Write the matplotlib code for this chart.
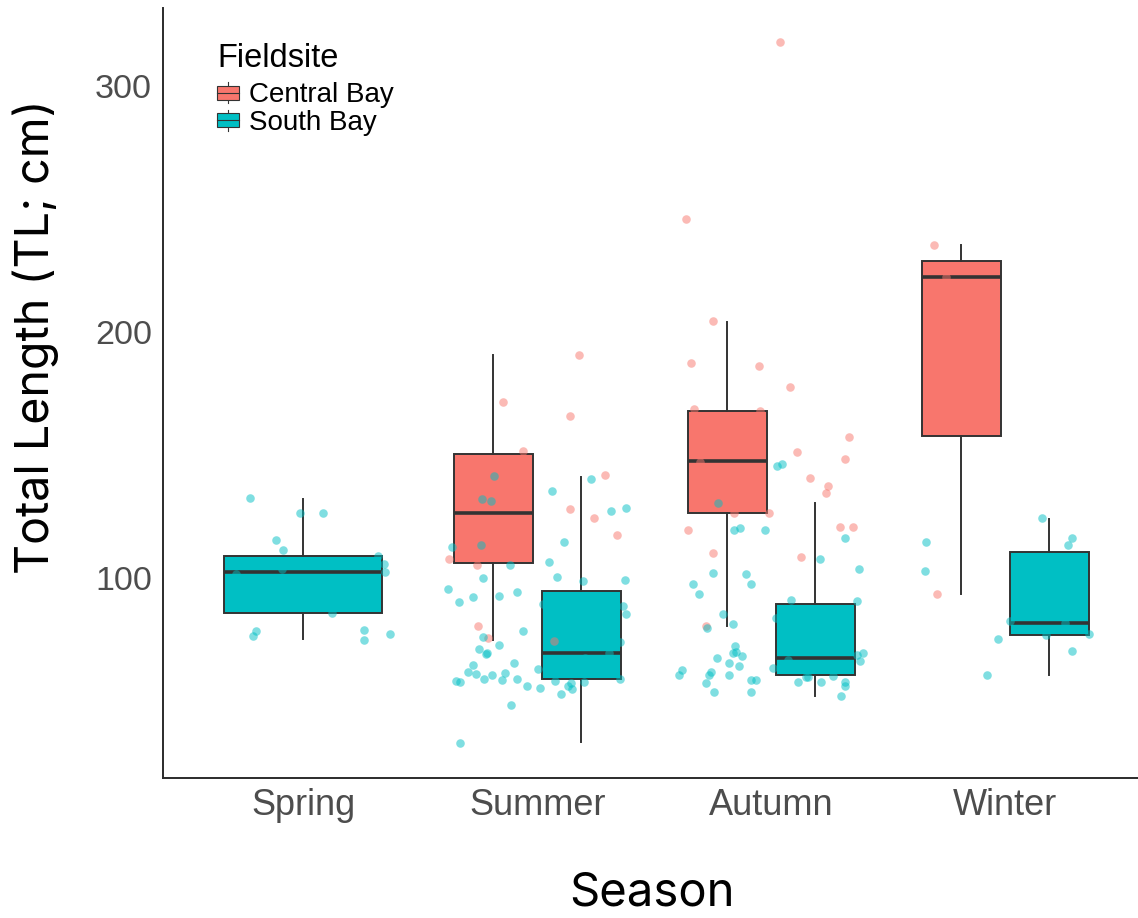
import numpy as np
import matplotlib
matplotlib.use("Agg")
import matplotlib.pyplot as plt
from matplotlib.legend_handler import HandlerBase
from matplotlib.patches import Rectangle, Patch
from matplotlib.lines import Line2D

# ---------------------------------------------------------------- data
seasons = ["Spring", "Summer", "Autumn", "Winter"]
sites = ["Central Bay", "South Bay"]

# box summaries (TL, cm); NaN = no sharks sampled at that site/season
central_whislo = [np.nan, 74.8, 80.5, 93.5]
central_q1 = [np.nan, 106.0, 126.3, 157.8]
central_med = [np.nan, 126.3, 147.4, 222.5]
central_q3 = [np.nan, 150.5, 167.9, 229.0]
central_whishi = [np.nan, 190.8, 204.2, 235.2]

south_whislo = [75.1, 33.2, 52.0, 60.6]
south_q1 = [85.9, 58.9, 60.6, 77.0]
south_med = [102.3, 69.5, 67.3, 81.8]
south_q3 = [108.9, 94.8, 89.3, 110.7]
south_whishi = [132.1, 141.2, 130.3, 124.1]

# individual measurements with their horizontal jitter
spring_south_tl = [132.4, 126.4, 126.4, 115.6, 111.3, 101.7, 103.7, 109.1,
                   105.6, 102.4, 85.9, 78.5, 76.6, 78.7, 74.9, 77.4]
spring_south_jit = [-0.227, -0.015, 0.083, -0.116, -0.089, -0.290, -0.092, 0.318,
                    0.343, 0.348, 0.122, -0.203, -0.216, 0.260, 0.261, 0.370]

summer_central_tl = [190.8, 171.5, 165.9, 151.5, 142.0, 127.9, 124.4, 117.4,
                     107.6, 105.3, 80.5, 75.5, 74.4]
summer_central_jit = [0.180, -0.149, 0.138, -0.061, 0.287, 0.140, 0.240, 0.341,
                      -0.378, -0.257, -0.253, -0.209, 0.072]

summer_south_tl = [141.5, 132.0, 131.3, 113.3, 140.4, 135.4, 127.2, 128.3,
                   114.5, 112.5, 105.3, 106.4, 100.5, 100.0, 98.9, 99.1,
                   95.4, 94.4, 92.4, 92.8, 90.1, 88.6, 85.4, 78.5,
                   76.0, 72.6, 71.3, 69.4, 69.2, 64.6, 65.4, 61.8,
                   61.1, 60.6, 61.4, 58.9, 58.7, 59.1, 62.9, 58.1,
                   57.6, 56.2, 55.2, 58.3, 56.2, 54.9, 57.2, 57.8,
                   58.9, 53.0, 48.4, 32.9, 89.4, 73.9, 69.6, 67.4]
summer_south_jit = [-0.186, -0.236, -0.197, -0.239, 0.229, 0.061, 0.313, 0.380,
                    0.112, -0.365, -0.118, 0.049, 0.086, -0.232, 0.194, 0.374,
                    -0.384, -0.088, -0.273, -0.162, -0.337, 0.364, 0.377, -0.061,
                    -0.232, -0.166, -0.249, -0.217, -0.221, -0.273, -0.102, -0.298,
                    -0.263, -0.194, -0.138, -0.226, -0.152, -0.085, 0.001, -0.347,
                    -0.331, -0.044, 0.012, 0.076, 0.132, 0.149, 0.145, 0.200,
                    0.353, 0.100, -0.112, -0.330, 0.025, 0.353, 0.307, 0.203]

autumn_central_tl = [317.8, 245.9, 204.5, 187.4, 186.3, 177.5, 168.7, 167.8,
                     157.3, 151.3, 148.4, 147.0, 140.5, 137.4, 134.4, 126.3,
                     126.5, 119.5, 120.6, 120.6, 110.3, 108.4, 80.6]
autumn_central_jit = [0.036, -0.364, -0.249, -0.345, -0.052, 0.080, -0.330, -0.048,
                      0.333, 0.109, 0.313, -0.307, 0.166, 0.240, 0.233, -0.160,
                      -0.008, -0.358, 0.293, 0.347, -0.250, 0.126, -0.280]

autumn_south_tl = [130.6, 145.5, 146.3, 119.4, 120.4, 119.6, 116.4, 107.6,
                   103.5, 102.0, 101.6, 97.6, 97.6, 93.4, 91.1, 90.7,
                   85.5, 81.4, 79.5, 72.5, 69.4, 69.8, 68.4, 64.4,
                   67.5, 65.6, 61.9, 60.6, 57.4, 60.6, 62.6, 60.6,
                   53.7, 58.5, 58.5, 53.7, 63.5, 66.7, 57.7, 59.6,
                   59.6, 57.8, 60.2, 57.6, 56.1, 51.9, 68.6, 69.5,
                   66.4, 83.6]
autumn_south_jit = [-0.229, 0.026, 0.046, -0.160, -0.135, -0.026, 0.313, 0.209,
                    0.375, -0.249, -0.110, -0.089, -0.334, -0.310, 0.085, 0.367,
                    -0.207, -0.165, -0.277, -0.155, -0.166, -0.153, -0.127, -0.138,
                    -0.232, -0.182, -0.257, -0.268, -0.281, -0.179, -0.381, -0.395,
                    -0.244, -0.085, -0.065, -0.085, 0.005, 0.073, 0.113, 0.146,
                    0.157, 0.212, 0.264, 0.315, 0.315, 0.297, 0.368, 0.392,
                    0.378, 0.022]

winter_central_tl = [235.4, 222.5, 93.5]
winter_central_jit = [-0.307, -0.254, -0.293]

winter_south_tl = [114.5, 102.8, 124.4, 116.4, 113.4, 82.5, 81.8, 76.8,
                   77.1, 75.3, 70.3, 60.6]
winter_south_jit = [-0.341, -0.345, 0.155, 0.287, 0.268, 0.022, 0.254, 0.172,
                    0.357, -0.030, 0.285, -0.080]

# ---------------------------------------------------------------- style
COL_CENTRAL = "#F8766D"
COL_SOUTH = "#00BFC4"
EDGE = "#333333"
TICK_GREY = "#4D4D4D"
DODGE = 0.75          # total dodge width
PAD = 0.1             # padding between dodged boxes
TITLE_FONT = ["Inter", "DejaVu Sans"]

plt.rcParams["font.family"] = ["Liberation Sans", "DejaVu Sans"]

fig = plt.figure(figsize=(11.38, 9.18), dpi=100)
ax = fig.add_axes([163 / 1138, 140 / 918, 975 / 1138, 770 / 918])


def box_stats(lo, q1, med, q3, hi):
    out = []
    for i in range(len(seasons)):
        if np.isnan(med[i]):
            out.append(None)
        else:
            out.append(dict(whislo=lo[i], q1=q1[i], med=med[i], q3=q3[i],
                            whishi=hi[i], fliers=[]))
    return out


central = box_stats(central_whislo, central_q1, central_med, central_q3, central_whishi)
south = box_stats(south_whislo, south_q1, south_med, south_q3, south_whishi)

groups = {"Central Bay": (central, COL_CENTRAL), "South Bay": (south, COL_SOUTH)}
for i in range(len(seasons)):
    present = [s for s in sites if groups[s][0][i] is not None]
    n = len(present)
    slot = DODGE / n
    for k, s in enumerate(present):
        stats, col = groups[s]
        pos = i - DODGE / 2 + slot * (k + 0.5)
        ax.bxp([stats[i]], positions=[pos], widths=slot * (1 - PAD),
               patch_artist=True, showfliers=False, showcaps=False,
               boxprops=dict(facecolor=col, edgecolor=EDGE, linewidth=1.4),
               whiskerprops=dict(color=EDGE, linewidth=1.4),
               medianprops=dict(color=EDGE, linewidth=2.6, solid_capstyle="butt"),
               zorder=2)

points = [
    (0, spring_south_tl, spring_south_jit, COL_SOUTH),
    (1, summer_central_tl, summer_central_jit, COL_CENTRAL),
    (1, summer_south_tl, summer_south_jit, COL_SOUTH),
    (2, autumn_central_tl, autumn_central_jit, COL_CENTRAL),
    (2, autumn_south_tl, autumn_south_jit, COL_SOUTH),
    (3, winter_central_tl, winter_central_jit, COL_CENTRAL),
    (3, winter_south_tl, winter_south_jit, COL_SOUTH),
]
for idx, tl, jit, col in points:
    ax.scatter(idx + np.asarray(jit), tl, s=38, color=col, alpha=0.5,
               linewidths=0, zorder=3)

# ---------------------------------------------------------------- axes
ax.set_xlim(-0.6, 3.567)
ax.set_ylim(18.7, 331.7)
ax.set_xticks(range(len(seasons)))
ax.set_xticklabels(seasons)
ax.set_yticks([100, 200, 300])
ax.tick_params(axis="x", length=0, pad=7, labelsize=26, labelcolor=TICK_GREY)
ax.tick_params(axis="y", length=0, pad=8, labelsize=24.5, labelcolor=TICK_GREY)
for side in ("top", "right"):
    ax.spines[side].set_visible(False)
for side in ("left", "bottom"):
    ax.spines[side].set_color("#2b2b2b")
    ax.spines[side].set_linewidth(1.4)

ax.set_ylabel("Total Length (TL; cm)", fontsize=33.5, family=TITLE_FONT, color="black")
ax.yaxis.set_label_coords(-0.107, 0.573)
ax.set_xlabel("Season", fontsize=34, family=TITLE_FONT, color="black")
ax.xaxis.set_label_coords(0.5015, -0.121)
ax.xaxis.label.set_verticalalignment("top")


# ---------------------------------------------------------------- legend
class BoxKey(HandlerBase):
    def create_artists(self, legend, orig_handle, xdescent, ydescent,
                       width, height, fontsize, trans):
        x0, y0 = -xdescent, -ydescent
        bh = height * 0.65
        by = y0 + (height - bh) / 2
        cx = x0 + width / 2
        rect = Rectangle((x0, by), width, bh, facecolor=orig_handle.get_facecolor(),
                         edgecolor=EDGE, linewidth=0.8, transform=trans)
        med = Line2D([x0, x0 + width], [y0 + height / 2] * 2, color=EDGE,
                     linewidth=0.8, transform=trans)
        wlo = Line2D([cx, cx], [y0, by], color=EDGE, linewidth=0.8, transform=trans)
        whi = Line2D([cx, cx], [by + bh, y0 + height], color=EDGE, linewidth=0.8,
                     transform=trans)
        return [wlo, whi, rect, med]


ax.text(0.0554, 0.9238, "Fieldsite", transform=ax.transAxes, fontsize=23.5,
        ha="left", va="baseline", color="black")
handles = [Patch(facecolor=COL_CENTRAL), Patch(facecolor=COL_SOUTH)]
leg = ax.legend(handles, sites, loc="upper left",
                bbox_to_anchor=(0.0554, 0.9035), frameon=False, fontsize=20,
                handlelength=0.78, handleheight=0.78,
                handletextpad=0.36, labelspacing=0.05, borderpad=0, borderaxespad=0,
                handler_map={Patch: BoxKey()})

fig.savefig("out.png", dpi=100, facecolor="white")
